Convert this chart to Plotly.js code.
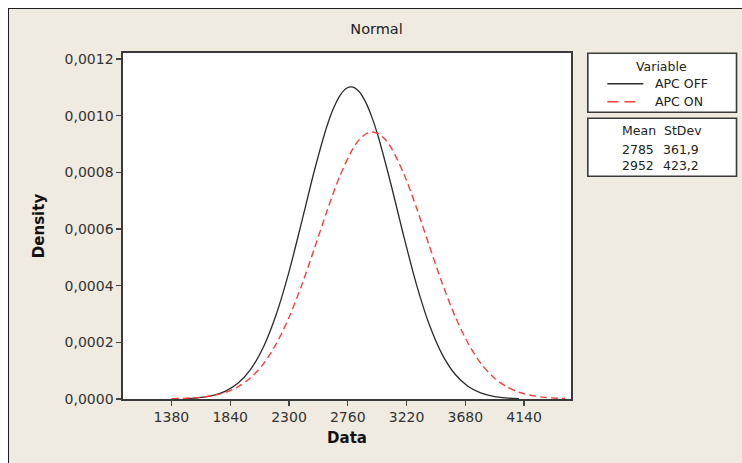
<!DOCTYPE html>
<html>
<head>
<meta charset="utf-8">
<script src="https://cdn.plot.ly/plotly-3.0.1.min.js"></script>
<style>
  html, body { margin: 0; padding: 0; background: #ffffff; }
  #frame { position: absolute; left: 8px; top: 8px; width: 734px; height: 455px;
           border-left: 1px solid #1e1e1e; border-top: 1px solid #1e1e1e; background: #efebe1; overflow: hidden; }
  #chart { position: absolute; left: 0; top: 0; width: 733px; height: 454px; }
</style>
</head>
<body>
<div id="frame"><div id="chart"></div></div>
<script>
// ---- data ----
const seriesNames = ["APC OFF", "APC ON"];
const means = ["2785", "2952"];
const stdevs = ["361,9", "423,2"];

const xOff = [1500,1600,1700,1800,1900,2000,2100,2200,2300,2400,2500,2600,2650,2700,2750,2800,2850,2900,2950,3000,3100,3200,3300,3400,3500,3600,3700,3800,3900,4000,4100];
const densOff = [0.0000020,0.0000052,0.0000123,0.0000271,0.0000555,0.0001048,0.0001838,0.0002985,0.0004491,0.0006260,0.0008084,0.0009673,0.0010282,0.0010723,0.0010972,0.0011014,0.0010847,0.0010481,0.0009935,0.0009240,0.0007547,0.0005712,0.0004005,0.0002601,0.0001565,0.0000873,0.0000451,0.0000216,0.0000096,0.0000039,0.0000015];

const xOn = [1380,1500,1600,1700,1800,1900,2000,2100,2200,2300,2400,2500,2600,2700,2800,2850,2900,2950,3000,3050,3100,3200,3300,3400,3500,3600,3700,3800,3900,4000,4100,4200,4300,4400,4460];
const densOn = [0.0000012,0.0000026,0.0000057,0.0000119,0.0000232,0.0000429,0.0000750,0.0001242,0.0001945,0.0002877,0.0004026,0.0005329,0.0006671,0.0007895,0.0008838,0.0009157,0.0009356,0.0009427,0.0009366,0.0009177,0.0008868,0.0007939,0.0006723,0.0005384,0.0004076,0.0002919,0.0001977,0.0001266,0.0000766,0.0000439,0.0000238,0.0000122,0.0000059,0.0000027,0.0000017];

const xTicks = [1380,1840,2300,2760,3220,3680,4140];
const yTicks = [0,0.0002,0.0004,0.0006,0.0008,0.0010,0.0012];

// ---- layout geometry (page pixels) ----
const OX = 9, OY = 9;                 // chart div origin on page
const PL = 123.3, PR = 570.7, PT = 53.3, PB = 399;
const px = x => (x - PL) / (PR - PL);
const py = y => (PB - y) / (PB - PT);

const FONT = "DejaVu Sans";
const DARK = "#2a2a2a";
const RED = "#ff3b3b";

const traces = [
  { x: xOff, y: densOff, name: seriesNames[0], type: "scatter", mode: "lines",
    line: { color: DARK, width: 1.3, shape: "spline", smoothing: 0.8 } },
  { x: xOn, y: densOn, name: seriesNames[1], type: "scatter", mode: "lines",
    line: { color: RED, width: 1.4, dash: "7px,4px", shape: "spline", smoothing: 0.8 } }
];

const shapes = [
  // legend boxes
  { type: "rect", xref: "paper", yref: "paper", x0: px(587.5), x1: px(736), y0: py(53.5), y1: py(112.5),
    line: { color: "#3a3a3a", width: 1.6 }, fillcolor: "#ffffff" },
  { type: "rect", xref: "paper", yref: "paper", x0: px(587.5), x1: px(736), y0: py(118.5), y1: py(176.5),
    line: { color: "#3a3a3a", width: 1.6 }, fillcolor: "#ffffff" },
  // legend samples
  { type: "line", xref: "paper", yref: "paper", x0: px(607), x1: px(643), y0: py(84), y1: py(84),
    line: { color: DARK, width: 1.3 } },
  { type: "line", xref: "paper", yref: "paper", x0: px(607), x1: px(641), y0: py(102), y1: py(102),
    line: { color: RED, width: 1.4, dash: "11px,6px" } }
];

const fs = 12.5;
const ann = (text, x, y, xanchor) => ({ text, xref: "paper", yref: "paper", x: px(x), y: py(y),
  xanchor: xanchor || "center", yanchor: "middle", showarrow: false,
  font: { family: FONT, size: fs, color: "#222" } });

const annotations = [
  ann("Variable", 661, 67),
  ann(seriesNames[0], 653, 84, "left"),
  ann(seriesNames[1], 653, 102, "left"),
  ann("Mean&nbsp;&nbsp;StDev", 662, 131),
  ann(means[0], 638, 150),
  ann(stdevs[0], 681, 150),
  ann(means[1], 638, 166),
  ann(stdevs[1], 681, 166)
];

const layout = {
  width: 733, height: 454,
  paper_bgcolor: "#efebe1", plot_bgcolor: "#ffffff",
  margin: { l: PL - OX, r: (OX + 733) - PR, t: PT - OY, b: (OY + 454) - PB, pad: 0 },
  separators: ",.",
  showlegend: false,
  font: { family: FONT, color: "#222" },
  title: { text: "Normal", font: { family: FONT, size: 14.5, color: "#222" },
           xref: "paper", x: px(376.5), xanchor: "center",
           yref: "container", y: 1 - (28.5 - OY) / 454, yanchor: "middle" },
  xaxis: {
    range: [1001, 4507], tickvals: xTicks, tickformat: "d",
    ticks: "outside", ticklen: 5, tickwidth: 1.3, tickcolor: "#444",
    showgrid: false, zeroline: false,
    showline: true, mirror: true, linecolor: "#3a3a3a", linewidth: 1.6,
    tickfont: { family: FONT, size: 14, color: "#333" },
    title: { text: "<b>Data</b>", font: { family: FONT, size: 15, color: "#111" }, standoff: 8 }
  },
  yaxis: {
    range: [0, 0.0012216], tickvals: yTicks, tickformat: ".4f",
    ticks: "outside", ticklen: 5, tickwidth: 1.3, tickcolor: "#444",
    showgrid: false, zeroline: false,
    showline: true, mirror: true, linecolor: "#3a3a3a", linewidth: 1.6,
    tickfont: { family: FONT, size: 14, color: "#333" },
    title: { text: "<b>Density</b>", font: { family: FONT, size: 15, color: "#111" }, standoff: 16 }
  },
  shapes, annotations
};

Plotly.newPlot("chart", traces, layout, { displayModeBar: false, staticPlot: true });
</script>
</body>
</html>
